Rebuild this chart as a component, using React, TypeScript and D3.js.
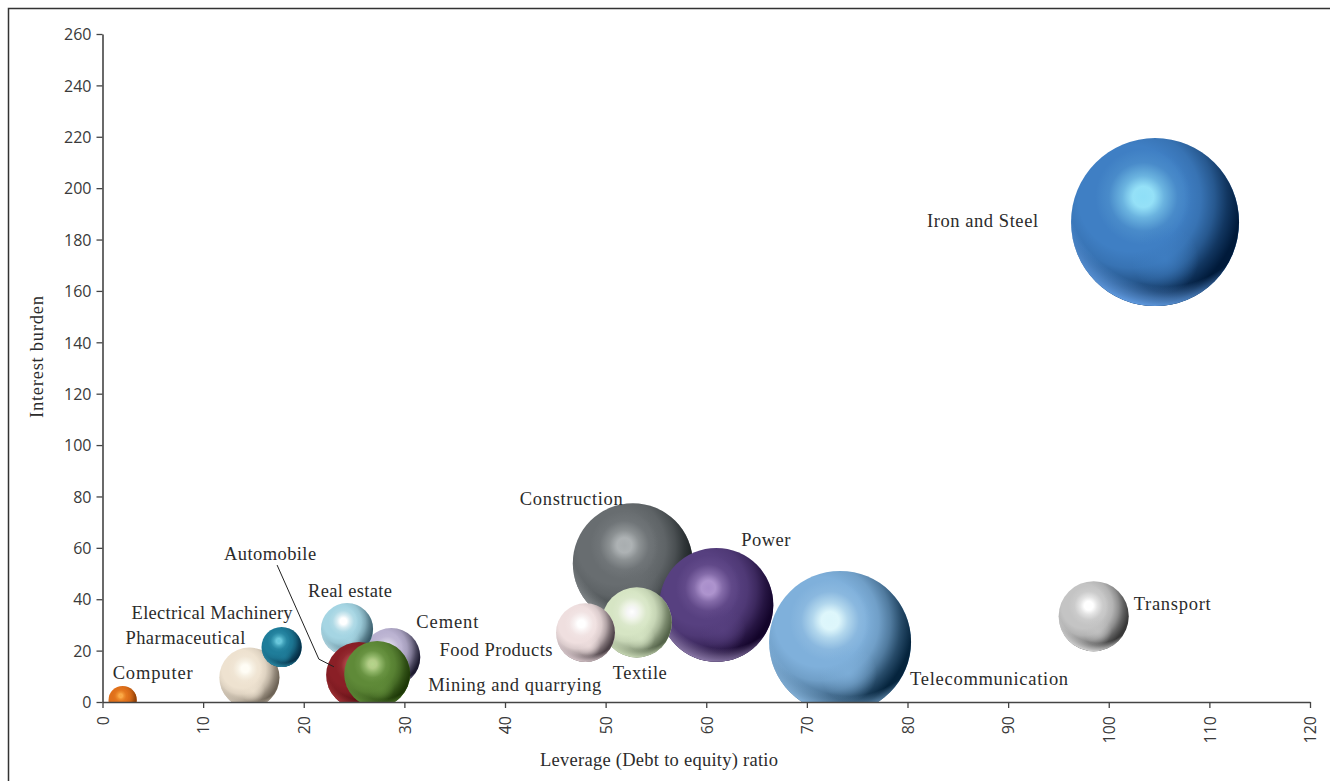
import { useEffect, useRef } from 'react';
import * as d3 from 'd3';

const width = 1330;
const height = 781;

// values
const sectors = [
  'Construction', 'Power', 'Textile', 'Food Products', 'Telecommunication',
  'Transport', 'Iron and Steel', 'Computer', 'Pharmaceutical',
  'Electrical Machinery', 'Cement', 'Real estate', 'Automobile', 'Mining and quarrying'
];
const leverage = [52.7, 61, 53.1, 48, 73.3, 98.5, 104.6, 2, 14.6, 17.8, 28.7, 24.3, 25.5, 27.3];
const interestBurden = [54, 37.8, 31, 27, 23.4, 33.4, 186.8, 0.8, 9.5, 21.4, 17.5, 28.4, 10.5, 10.9];
const bubbleSize = [51, 46, 17.4, 12.3, 71.4, 17.4, 100, 2.8, 12.8, 5.7, 11.9, 9.6, 15.4, 15.4];
const xTicks = d3.range(0, 121, 10);
const yTicks = d3.range(0, 261, 20);
const leaderPath: [number, number][] = [[17.35, 53.3], [21.5, 16.7], [23, 13.7]];

// highlight, body, shadow, bottom rim
const sphereColors: Record<string, string[]> = {
  Construction: ['#a9aeb0', '#686d70', '#1a2022', '#8d9295'],
  Power: ['#a98ecb', '#574080', '#13042a', '#8c7aa9'],
  Textile: ['#ffffff', '#d6e5c4', '#55644a', '#c9d9b6'],
  'Food Products': ['#ffffff', '#efdfdf', '#4b4046', '#dac9cd'],
  Telecommunication: ['#dcf6fb', '#7fb0db', '#05243d', '#8ab8e0'],
  Transport: ['#ffffff', '#c4c4c4', '#383838', '#d8d8d8'],
  'Iron and Steel': ['#8fdff7', '#3f7fc4', '#001a3a', '#619ce2'],
  Computer: ['#fba63f', '#e0701a', '#873a05', '#e87a20'],
  Pharmaceutical: ['#fffdf5', '#eee2d0', '#6d6356', '#d0c5b5'],
  'Electrical Machinery': ['#62c5da', '#1f7d9a', '#052e46', '#2a8aa5'],
  Cement: ['#e8e4f2', '#b9b1d0', '#1d1b30', '#c5bed9'],
  'Real estate': ['#ffffff', '#a5d5e3', '#3b5d6b', '#b6dce7'],
  Automobile: ['#cf6a6a', '#8a1f26', '#380407', '#a83438'],
  'Mining and quarrying': ['#b5d68c', '#5f8a38', '#1d3807', '#5f8a38']
};

// label start and baseline relative to the centre of its bubble, then its drawn width
const labelOffsets: Record<string, [number, number, number]> = {
  Construction: [-113, -58.5, 103],
  Power: [25, -58.5, 49],
  Textile: [-24, 56.5, 54],
  'Food Products': [-146, 23.5, 113],
  Telecommunication: [70, 43.5, 158],
  Transport: [40, -6.5, 77],
  'Iron and Steel': [-228, 4.5, 111],
  Computer: [-10, -20.5, 80],
  Pharmaceutical: [-124, -33.5, 120],
  'Electrical Machinery': [-150, -28.5, 161],
  Cement: [25, -29.5, 62],
  'Real estate': [-39, -32.5, 84],
  Automobile: [-135, -115.5, 92],
  'Mining and quarrying': [51, 17.5, 173]
};

const serif = '"Liberation Serif", serif';
const sans = '"Open Sans", sans-serif';

export default function App() {
  const margin = { left: 102.5, right: 1310, top: 34, bottom: 702 };
  const x = d3.scaleLinear().domain([0, 120]).range([margin.left, margin.right]);
  const y = d3.scaleLinear().domain([0, 260]).range([margin.bottom, margin.top]);
  const r = d3.scaleSqrt().domain([0, 100]).range([0, 84]);
  const line = d3.line<[number, number]>().x((d) => x(d[0])).y((d) => y(d[1]));

  const xAxisRef = useRef<SVGGElement>(null);
  const yAxisRef = useRef<SVGGElement>(null);

  useEffect(() => {
    const xAxis = d3.select(xAxisRef.current!);
    xAxis.call(d3.axisBottom(x).tickValues(xTicks).tickSize(6).tickSizeOuter(0).tickFormat(d3.format('d')));
    xAxis.selectAll('text')
      .attr('transform', 'rotate(-90)')
      .attr('text-anchor', 'end')
      .attr('x', -14)
      .attr('y', 0)
      .attr('dy', '0.36em');
    const yAxis = d3.select(yAxisRef.current!);
    yAxis.call(d3.axisLeft(y).tickValues(yTicks).tickSize(6).tickSizeOuter(0).tickFormat(d3.format('d')));
    yAxis.selectAll('text').attr('x', -11).attr('dy', '0.36em');
    for (const g of [xAxis, yAxis]) {
      g.attr('font-family', sans).attr('font-size', 16);
      g.selectAll('text').attr('fill', '#3a3a3a');
      g.selectAll('line').attr('stroke', '#444').attr('stroke-width', 1.3);
      g.select('.domain').attr('stroke', '#444').attr('stroke-width', 1.6);
    }
  }, []);

  return (
    <svg
      width={width}
      height={height}
      viewBox={`0 0 ${width} ${height}`}
      style={{ position: 'absolute', left: 0, top: 0, background: '#fff' }}
    >
      <defs>
        <clipPath id="plot-clip">
          <rect x={0} y={0} width={width} height={margin.bottom} />
        </clipPath>
        {sectors.map((s, i) => {
          const [light, body, dark, rim] = sphereColors[s];
          return (
            <g key={s}>
              <radialGradient id={`body-${i}`} cx="0.43" cy="0.35" r="0.62">
                <stop offset="0" stopColor={light} />
                <stop offset="0.1" stopColor={light} stopOpacity={0.95} />
                <stop offset="0.2" stopColor={d3.interpolateRgb(light, body)(0.45)} />
                <stop offset="0.33" stopColor={d3.interpolateRgb(light, body)(0.88)} />
                <stop offset="0.46" stopColor={body} />
                <stop offset="1" stopColor={body} />
              </radialGradient>
              <radialGradient id={`shade-${i}`} cx="0.36" cy="0.36" r="0.75">
                <stop offset="0" stopColor={dark} stopOpacity={0} />
                <stop offset="0.42" stopColor={dark} stopOpacity={0} />
                <stop offset="0.55" stopColor={dark} stopOpacity={0.12} />
                <stop offset="0.66" stopColor={dark} stopOpacity={0.38} />
                <stop offset="0.76" stopColor={dark} stopOpacity={0.72} />
                <stop offset="0.87" stopColor={dark} stopOpacity={1} />
                <stop offset="1" stopColor={dark} />
              </radialGradient>
              <radialGradient id={`glow-${i}`} cx="0.56" cy="0.72" r="0.2">
                <stop offset="0" stopColor={body} stopOpacity={0.8} />
                <stop offset="0.5" stopColor={body} stopOpacity={0.4} />
                <stop offset="1" stopColor={body} stopOpacity={0} />
              </radialGradient>
              <radialGradient id={`rim-${i}`} cx="0.56" cy="0.3" r="0.71">
                <stop offset="0" stopColor={rim} stopOpacity={0} />
                <stop offset="0.82" stopColor={rim} stopOpacity={0} />
                <stop offset="0.92" stopColor={rim} stopOpacity={0.6} />
                <stop offset="1" stopColor={rim} stopOpacity={1} />
              </radialGradient>
            </g>
          );
        })}
      </defs>

      <path d={`M8.5 ${height}V8.5H${width}`} fill="none" stroke="#333" strokeWidth={1.5} />

      <g clipPath="url(#plot-clip)">
        {sectors.map((s, i) => (
          <g key={s}>
            {['body', 'shade', 'glow', 'rim'].map((layer) => (
              <circle
                key={layer}
                cx={x(leverage[i])}
                cy={y(interestBurden[i])}
                r={r(bubbleSize[i])}
                fill={`url(#${layer}-${i})`}
              />
            ))}
          </g>
        ))}
      </g>

      <path d={line(leaderPath) || ''} fill="none" stroke="#222" strokeWidth={1} />

      <g fontFamily={serif} fontSize={18.5} fill="#2b2b2b">
        {sectors.map((s, i) => (
          <text
            key={s}
            x={x(leverage[i]) + labelOffsets[s][0]}
            y={y(interestBurden[i]) + labelOffsets[s][1]}
            textLength={labelOffsets[s][2]}
          >
            {s}
          </text>
        ))}
        <text x={659} y={766} textAnchor="middle" textLength={238}>Leverage (Debt to equity) ratio</text>
        <text transform="translate(43,357) rotate(-90)" textAnchor="middle" textLength={122}>Interest burden</text>
      </g>

      <g ref={xAxisRef} transform={`translate(0,${margin.bottom})`} />
      <g ref={yAxisRef} transform={`translate(${margin.left},0)`} />
    </svg>
  );
}
